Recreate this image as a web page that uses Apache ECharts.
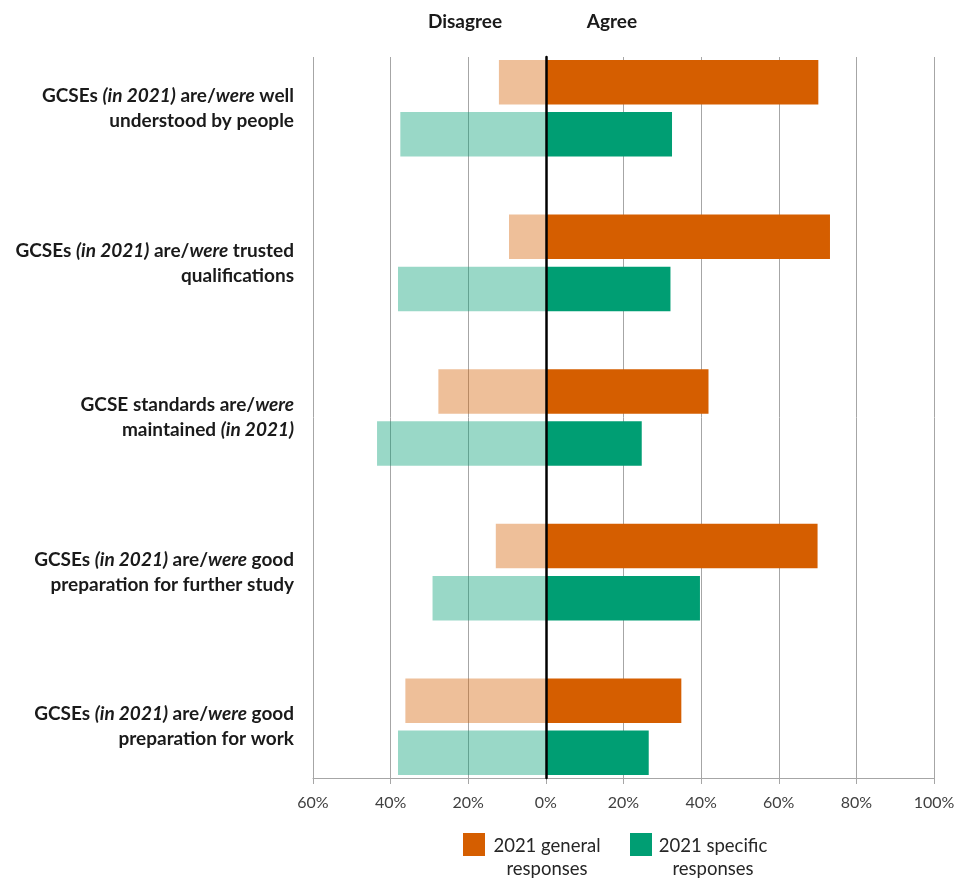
<!DOCTYPE html>
<html>
<head>
<meta charset="utf-8">
<title>GCSE perceptions 2021</title>
<script src="https://cdn.jsdelivr.net/npm/echarts@6/dist/echarts.min.js"></script>
<style>
  html, body { margin: 0; padding: 0; background: #ffffff; }
  #chart { width: 960px; height: 880px; }
</style>
</head>
<body>
<div id="chart"></div>
<script>
// Statements, one per row (line breaks as laid out on the axis)
const statements = [
  ['GCSEs (in 2021) are/were well', 'understood by people'],
  ['GCSEs (in 2021) are/were trusted', 'qualifications'],
  ['GCSE standards are/were', 'maintained (in 2021)'],
  ['GCSEs (in 2021) are/were good', 'preparation for further study'],
  ['GCSEs (in 2021) are/were good', 'preparation for work']
];

// Percentages of respondents
const generalAgree     = [70.2, 73.2, 41.9, 70.0, 34.9];
const generalDisagree  = [12.1,  9.5, 27.7, 12.9, 36.2];
const specificAgree    = [32.5, 32.1, 24.7, 39.7, 26.5];
const specificDisagree = [37.5, 38.1, 43.5, 29.2, 38.1];

const axisTicks = [-60, -40, -20, 0, 20, 40, 60, 80, 100];
const legendNames = ['2021 general\nresponses', '2021 specific\nresponses'];

const ORANGE = '#D55E00';
const GREEN = '#009E73';
const FONT = 'Lato, "Open Sans", sans-serif';

const categoryKeys = statements.map(s => s.join(' '));

function richLabel(value) {
  const idx = categoryKeys.indexOf(value);
  const lines = statements[idx].map(line =>
    line.replace('(in 2021)', '{i|(in 2021)}').replace('were', '{i|were}')
  );
  return lines.join('\n');
}

const chart = echarts.init(document.getElementById('chart'), null, { renderer: 'canvas' });

const gridLeft = 313, gridRight = 26;

chart.setOption({
  animation: false,
  backgroundColor: '#ffffff',
  textStyle: { fontFamily: FONT },
  grid: [
    { left: gridLeft, right: gridRight, top: 57, bottom: 102 },
    { left: gridLeft, right: gridRight, top: 31, bottom: 76 }
  ],
  xAxis: [
    {
      gridIndex: 0,
      type: 'value',
      min: axisTicks[0],
      max: axisTicks[axisTicks.length - 1],
      interval: 20,
      axisLine: { show: true, lineStyle: { color: '#A6A6A6', width: 1 } },
      axisTick: { show: true, length: 6, lineStyle: { color: '#A6A6A6' } },
      splitLine: { show: true, lineStyle: { color: '#A6A6A6', width: 1 } },
      axisLabel: {
        margin: 17,
        color: '#404040',
        fontSize: 16,
        fontFamily: FONT,
        formatter: v => Math.abs(v) + '%'
      }
    },
    {
      gridIndex: 1,
      type: 'value',
      min: axisTicks[0],
      max: axisTicks[axisTicks.length - 1],
      interval: 20,
      show: false
    }
  ],
  yAxis: [
    {
      gridIndex: 0,
      type: 'category',
      data: categoryKeys,
      inverse: true,
      z: 10,
      axisLine: { show: true, onZero: true, lineStyle: { color: '#000000', width: 2.5 } },
      axisTick: { show: false },
      axisLabel: { show: false },
      splitLine: { show: false }
    },
    {
      gridIndex: 1,
      type: 'category',
      data: categoryKeys,
      inverse: true,
      axisLine: { show: false },
      axisTick: { show: false },
      splitLine: { show: false },
      axisLabel: {
        margin: 19,
        color: '#1a1a1a',
        fontSize: 19,
        fontWeight: 'bold',
        fontFamily: FONT,
        lineHeight: 25,
        align: 'right',
        formatter: richLabel,
        rich: {
          i: {
            fontStyle: 'italic',
            fontWeight: 'bold',
            fontSize: 19,
            fontFamily: FONT,
            color: '#1a1a1a',
            lineHeight: 25
          }
        }
      }
    }
  ],
  series: [
    {
      name: 'General disagree',
      type: 'bar',
      xAxisIndex: 1, yAxisIndex: 1,
      stack: 'general',
      data: generalDisagree.map(v => -v),
      barWidth: 44.5,
      barGap: '17%',
      itemStyle: { color: ORANGE, opacity: 0.4 }
    },
    {
      name: 'General agree',
      type: 'bar',
      xAxisIndex: 1, yAxisIndex: 1,
      stack: 'general',
      data: generalAgree,
      barWidth: 44.5,
      barGap: '17%',
      itemStyle: { color: ORANGE }
    },
    {
      name: 'Specific disagree',
      type: 'bar',
      xAxisIndex: 1, yAxisIndex: 1,
      stack: 'specific',
      data: specificDisagree.map(v => -v),
      barWidth: 44.5,
      barGap: '17%',
      itemStyle: { color: GREEN, opacity: 0.4 }
    },
    {
      name: 'Specific agree',
      type: 'bar',
      xAxisIndex: 1, yAxisIndex: 1,
      stack: 'specific',
      data: specificAgree,
      barWidth: 44.5,
      barGap: '17%',
      itemStyle: { color: GREEN }
    }
  ],
  graphic: [
    {
      type: 'text', x: 465, y: 22,
      style: { text: 'Disagree', fontSize: 19, fontWeight: 'bold', fontFamily: FONT, fill: '#1a1a1a',
               align: 'center', verticalAlign: 'middle' }
    },
    {
      type: 'text', x: 612, y: 22,
      style: { text: 'Agree', fontSize: 19, fontWeight: 'bold', fontFamily: FONT, fill: '#1a1a1a',
               align: 'center', verticalAlign: 'middle' }
    },
    {
      type: 'rect', shape: { x: 463, y: 833, width: 22, height: 23 },
      style: { fill: ORANGE }
    },
    {
      type: 'text', x: 547, y: 835,
      style: {
        text: legendNames[0], fontSize: 18.5, fontFamily: FONT, fill: '#262626',
        align: 'center', verticalAlign: 'top', lineHeight: 23
      }
    },
    {
      type: 'rect', shape: { x: 630, y: 833, width: 22, height: 23 },
      style: { fill: GREEN }
    },
    {
      type: 'text', x: 713, y: 835,
      style: {
        text: legendNames[1], fontSize: 18.5, fontFamily: FONT, fill: '#262626',
        align: 'center', verticalAlign: 'top', lineHeight: 23
      }
    }
  ]
});
</script>
</body>
</html>
